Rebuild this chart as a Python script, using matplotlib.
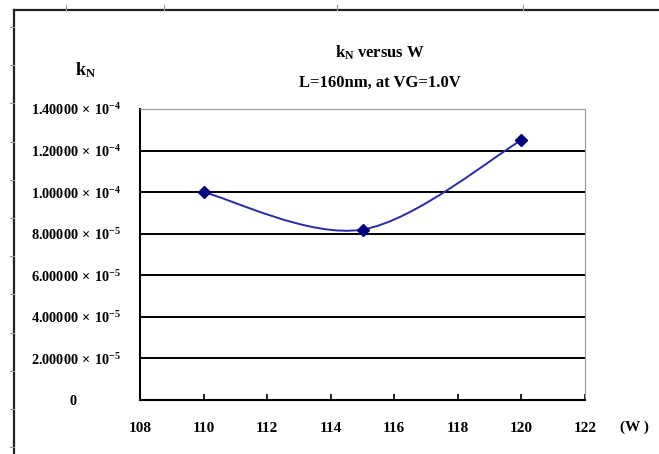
import numpy as np
import matplotlib.pyplot as plt
from matplotlib.path import Path
from matplotlib.patches import PathPatch
from matplotlib.lines import Line2D
from matplotlib.ticker import FuncFormatter

plt.rcParams['font.family'] = ['Liberation Serif', 'DejaVu Serif']
plt.rcParams['font.weight'] = 'bold'
plt.rcParams['mathtext.fontset'] = 'custom'
plt.rcParams['mathtext.rm'] = 'Liberation Serif:bold'
plt.rcParams['mathtext.bf'] = 'Liberation Serif:bold'
plt.rcParams['mathtext.it'] = 'Liberation Serif:bold'

# data
w = [110, 115, 120]
kn = [1.00e-4, 8.20e-5, 1.25e-4]
x_ticks = [108, 110, 112, 114, 116, 118, 120, 122]
y_ticks = [0, 2e-5, 4e-5, 6e-5, 8e-5, 1.0e-4, 1.2e-4, 1.4e-4]

W, H = 659, 454
fig = plt.figure(figsize=(W / 100, H / 100), dpi=100)
ax = fig.add_axes([140 / W, 1 - 400 / H, 445 / W, 291 / H])

# outer sheet frame with ruler ticks
fig.add_artist(Line2D([14 / W, 1], [1 - 10 / H, 1 - 10 / H], color='#222222', lw=1.6))
fig.add_artist(Line2D([14 / W, 14 / W], [0, 1 - 10 / H], color='#222222', lw=1.6))
for yy in [27, 65, 103, 142, 180, 218, 256, 294, 333, 371, 409, 447]:
    fig.add_artist(Line2D([10 / W, 14 / W], [1 - yy / H, 1 - yy / H], color='#999999', lw=0.8))
for xx in [66, 164, 337, 523]:
    fig.add_artist(Line2D([xx / W, xx / W], [1 - 5 / H, 1 - 10 / H], color='#999999', lw=0.8))

# smoothed line (excel style bezier through the points)
pts = np.column_stack([w, kn])
verts = [pts[0]]
codes = [Path.MOVETO]
n = len(pts)
for i in range(n - 1):
    p_prev = pts[max(i - 1, 0)]
    p_next2 = pts[min(i + 2, n - 1)]
    c1 = pts[i] + (pts[i + 1] - p_prev) / 6
    c2 = pts[i + 1] - (p_next2 - pts[i]) / 6
    verts += [c1, c2, pts[i + 1]]
    codes += [Path.CURVE4] * 3
ax.add_patch(PathPatch(Path(verts, codes), fill=False, edgecolor='#2a2aa8', lw=1.4, zorder=3))
ax.plot(w, kn, linestyle='none', marker='D', color='#000080', markersize=6, zorder=4)

ax.set_xlim(108, 122)
ax.set_ylim(0, 1.4e-4)
ax.set_xticks(x_ticks)
ax.set_yticks(y_ticks)
for y in y_ticks[1:-1]:
    ax.axhline(y, color='black', lw=1.4, zorder=1)


def fmt(v, pos):
    if v == 0:
        return '0            '
    m, e = ('%.5e' % v).split('e')
    return r'$%s\,\times\,10^{-%d}$' % (m, -int(e))


ax.yaxis.set_major_formatter(FuncFormatter(fmt))
ax.tick_params(axis='y', length=0, pad=14, labelsize=10.3)
ax.tick_params(axis='x', direction='in', length=4, width=1.2, pad=16, labelsize=11)

ax.spines['left'].set_linewidth(1.5)
ax.spines['bottom'].set_linewidth(1.5)
ax.spines['top'].set_color('#999999')
ax.spines['right'].set_color('#999999')

fig.text(380 / W, 1 - 53 / H, r'$k_N$ versus W', ha='center', va='center', fontsize=12)
fig.text(380 / W, 1 - 83 / H, 'L=160nm, at VG=1.0V', ha='center', va='center', fontsize=12)
fig.text(85 / W, 1 - 70 / H, r'$k_N$', ha='center', va='center', fontsize=13)
fig.text(634 / W, 1 - 427 / H, '(W )', ha='center', va='center', fontsize=11)

fig.savefig('out.png', dpi=100)
